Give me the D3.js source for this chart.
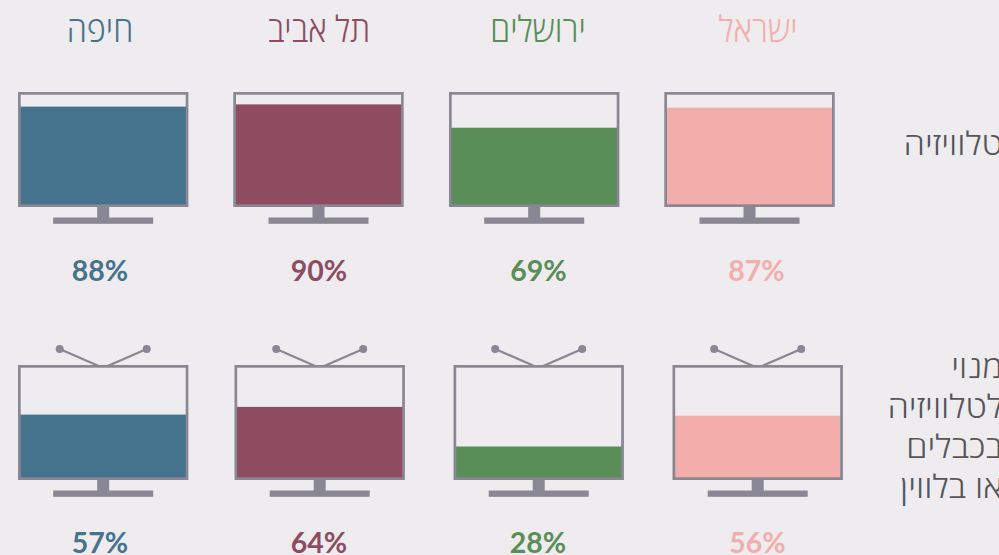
<!DOCTYPE html>
<html lang="he"><head><meta charset="utf-8">
<style>html,body{margin:0;padding:0;background:#eeecee;overflow:hidden}svg{display:block}</style>
<script src="https://cdn.jsdelivr.net/npm/d3@7"></script></head><body>
<script>
const places = ["ישראל","ירושלים","תל אביב","חיפה"];
const colors = ["#f3aeac","#5a8e58","#8f4c60","#45738e"];
const tvValues = [87,69,90,88];
const cableValues = [56,28,64,57];
const rowLabels = [["טלוויזיה"],["מנוי","לטלוויזיה","בכבלים","או בלווין"]];

const W=999,H=555, frameC="#888793", bg="#eeecee";
const svg=d3.select("body").append("svg").attr("width",W).attr("height",H);
svg.append("rect").attr("width",W).attr("height",H).attr("fill",bg);
const heb="'Open Sans','DejaVu Sans',sans-serif";

const rows=[
 {vals:tvValues, top:92, xs:[664.3,449,233.3,18], antenna:false, pctY:281, pctX:[756.5,538.5,319,100], span:111},
 {vals:cableValues, top:365, xs:[672.5,453.5,234.5,18], antenna:true, pctY:553, pctX:[757.5,538,319,100], span:110}
];
const fw=170.4,fh=115,sw=2.7;

rows.forEach(r=>{
  const y=d3.scaleLinear().domain([0,100]).range([fh-sw,fh-sw-r.span]);
  r.xs.forEach((x0,i)=>{
    const g=svg.append("g").attr("transform",`translate(${x0},${r.top})`);
    const cx=fw/2;
    if(r.antenna){
      [[-43.5,-4.5],[43.5,4.5]].forEach(([dx,e])=>{
        g.append("line").attr("x1",cx+dx).attr("y1",-16).attr("x2",cx+e).attr("y2",1)
          .attr("stroke",frameC).attr("stroke-width",2.3);
        g.append("circle").attr("cx",cx+dx).attr("cy",-16).attr("r",4).attr("fill",frameC);
      });
    }
    g.append("rect").attr("x",cx-6).attr("y",fh).attr("width",12).attr("height",12).attr("fill",frameC);
    g.append("rect").attr("x",cx-50).attr("y",fh+10.5).attr("width",100).attr("height",6.3).attr("fill",frameC);
    g.append("rect").attr("x",sw/2).attr("y",sw/2).attr("width",fw-sw).attr("height",fh-sw).attr("fill",bg);
    g.append("rect").attr("x",sw/2).attr("y",y(r.vals[i])).attr("width",fw-sw).attr("height",y(0)-y(r.vals[i])+sw/2).attr("fill",colors[i]);
    g.append("rect").attr("x",sw/2).attr("y",sw/2).attr("width",fw-sw).attr("height",fh-sw)
      .attr("fill","none").attr("stroke",frameC).attr("stroke-width",sw);
    svg.append("text").attr("x",r.pctX[i]).attr("y",r.pctY).attr("text-anchor","middle")
      .attr("font-family","Lato,sans-serif").attr("font-weight",700).attr("font-size",28.5)
      .attr("fill",colors[i]).text(r.vals[i]+"%");
  });
});
const titleX=[758,538,319,100];
places.forEach((p,i)=>svg.append("text").attr("transform",`translate(${titleX[i]},42) scale(0.9,1)`)
  .attr("text-anchor","middle").attr("direction","rtl").attr("font-family",heb).attr("font-weight",300)
  .attr("font-size",36).attr("fill",colors[i]).text(p));
const lab=(x,y,t)=>svg.append("text").attr("transform",`translate(${x},${y}) scale(1.08,1)`)
  .attr("text-anchor","end").attr("font-family",heb).attr("font-weight",300).attr("font-size",32)
  .attr("fill","#55565a").text(t);
lab(1003,155,rowLabels[0][0]);
rowLabels[1].forEach((t,i)=>lab(1003,378+i*40,t));
</script></body></html>
